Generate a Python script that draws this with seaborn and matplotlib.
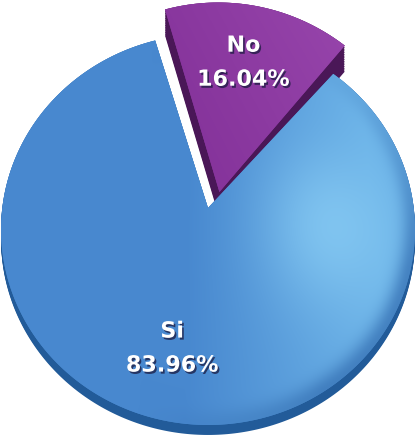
import numpy as np
import matplotlib
matplotlib.use("Agg")
import matplotlib.pyplot as plt
import seaborn as sns
from matplotlib.transforms import Transform
from matplotlib.path import Path
import matplotlib.patheffects as pe
from matplotlib.colors import to_rgb

sns.set_theme(style="white")
plt.rcParams['font.family'] = ['DejaVu Sans']

categories = ["No", "Si"]
values = [16.04, 83.96]
pct_texts = ["16.04%", "83.96%"]

top_colors = ["#8a35a0", "#4a8bd0"]
side_colors = ["#4a1757", "#225b99"]

W, H = 418, 437
CX, CY = 208, H - 208          # pie centre in pixel coords (y up)
SX, SY, B = 205.7, 193.1, 0.11  # perspective parameters
START = 106.5


class Persp(Transform):
    input_dims = output_dims = 2
    is_separable = False
    has_inverse = False

    def __init__(self, sx, lift=0.0):
        super().__init__()
        self.sx = sx
        self.lift = lift

    def transform_non_affine(self, v):
        v = np.asarray(v, float)
        x, y = v[:, 0], v[:, 1]
        d = 1 + B * y
        return np.column_stack([CX + self.sx * x / d, CY + SY * y / d + self.lift])

    def transform_path_non_affine(self, path):
        polys, cur = [], []
        t = np.linspace(0, 1, 24)
        for seg, code in path.iter_bezier():
            if code == Path.MOVETO:
                if len(cur) > 2:
                    polys.append(np.vstack(cur))
                cur = [seg.control_points[:1]]
                continue
            cur.append(seg(t)[1:])
        if len(cur) > 2:
            polys.append(np.vstack(cur))
        paths = [Path(self.transform_non_affine(p), closed=True)
                 for p in (np.vstack([p, p[:1]]) for p in polys)]
        return Path.make_compound_path(*paths)


fig = plt.figure(figsize=(W / 100, H / 100), dpi=100)
ax = fig.add_axes([0, 0, 1, 1])

NO_CENTER = (0.06, 0.0)
NO_R = 1.1
NO_SX = 190.0
NO_LIFT = 16.0
NO_DEPTH = 26.0
BLUE_DEPTH = 10.0


def draw_pie(colors, lift_blue, lift_no, z, show):
    """Draw both wedges through ax.pie and map them with the perspective."""
    ws, _ = ax.pie(values, startangle=START, counterclock=False, colors=colors,
                   radius=1.0, frame=True, wedgeprops=dict(linewidth=0))
    no_w, si_w = ws
    no_w.set_center(NO_CENTER)
    no_w.set_radius(NO_R)
    no_w.set_transform(Persp(NO_SX, lift_no) + ax.transData)
    si_w.set_transform(Persp(SX, lift_blue) + ax.transData)
    no_w.set_zorder(z[0])
    si_w.set_zorder(z[1])
    no_w.set_visible(show[0])
    si_w.set_visible(show[1])
    return no_w, si_w


# side walls (stacked copies)
for k in np.linspace(-BLUE_DEPTH, 0, 12):
    draw_pie(side_colors, k, 0, (0, 1.0), (False, True))
for k in np.linspace(NO_LIFT - NO_DEPTH, NO_LIFT, 16):
    draw_pie(side_colors, 0, k, (2.0, 0), (True, False))

# top surfaces
no_top, si_top = draw_pie(top_colors, 0, NO_LIFT, (4.0, 3.0), (True, True))

ax.set_xlim(0, W)
ax.set_ylim(0, H)
ax.set_aspect("auto")
ax.axis("off")

# shading of the blue top surface (computed in unit-circle coordinates)
yy, xx = np.mgrid[0:H:400j, 0:W:400j]
Yp = yy - CY
v = Yp / (SY - B * Yp)
u = (xx - CX) * (1 + B * v) / SX
r = np.hypot(u, v)

c_base = np.array(to_rgb("#4888cf"))
c_light = np.array(to_rgb("#6cb3e8"))
c_high = np.array(to_rgb("#86caf3"))
c_rim = np.array(to_rgb("#3a76b8"))
g = np.clip((u + 0.1) / 0.9, 0, 1)[..., None]
img = c_base * (1 - g) + c_light * g
h = np.exp(-(np.hypot(u - 0.6, (v + 0.1) * 0.8) / 0.32) ** 2)[..., None]
img = img * (1 - 0.8 * h) + c_high * 0.8 * h
rim_w = np.clip((u + 0.3) / 0.8, 0, 1) * np.clip((0.9 - v) / 1.2, 0, 1)
rim = (np.exp(-((1 - np.clip(r, 0, 1)) / 0.06) ** 2) * rim_w)[..., None] * 0.8
img = img * (1 - rim) + c_rim * rim
im_b = ax.imshow(np.clip(img, 0, 1), extent=(0, W, 0, H), origin="lower",
                 aspect="auto", zorder=3.1, interpolation="bilinear")
im_b.set_clip_path(si_top)

p_a = np.array(to_rgb("#7f2d95"))
p_b = np.array(to_rgb("#9a48ae"))
gp = np.clip(0.55 * u + 0.25 * (v - 0.4) + 0.3, 0, 1)[..., None]
im_p = ax.imshow(p_a * (1 - gp) + p_b * gp, extent=(0, W, 0, H), origin="lower",
                 aspect="auto", zorder=4.1, interpolation="bilinear")
im_p.set_clip_path(no_top)

# labels, placed along each slice's mid angle
shadow = [pe.withSimplePatchShadow(offset=(1.2, -1.5), shadow_rgbFace="#1a1a40", alpha=0.75)]
label_info = [
    (categories[0], pct_texts[0], no_top, 0.74, Persp(NO_SX, NO_LIFT)),
    (categories[1], pct_texts[1], si_top, 0.69, Persp(SX, 0)),
]
for name, pct, w, dist, tr in label_info:
    ang = np.deg2rad((w.theta1 + w.theta2) / 2)
    cx, cy = w.center
    px, py = tr.transform_non_affine(np.array([[cx + dist * np.cos(ang), cy + dist * np.sin(ang)]]))[0]
    ax.text(px - 3, py + 17, name, ha="center", va="center", fontsize=16, fontweight="bold",
            color="white", zorder=10, path_effects=shadow)
    ax.text(px - 3, py - 17, pct, ha="center", va="center", fontsize=16, fontweight="bold",
            color="white", zorder=10, path_effects=shadow)

fig.savefig("out.png", dpi=100)
